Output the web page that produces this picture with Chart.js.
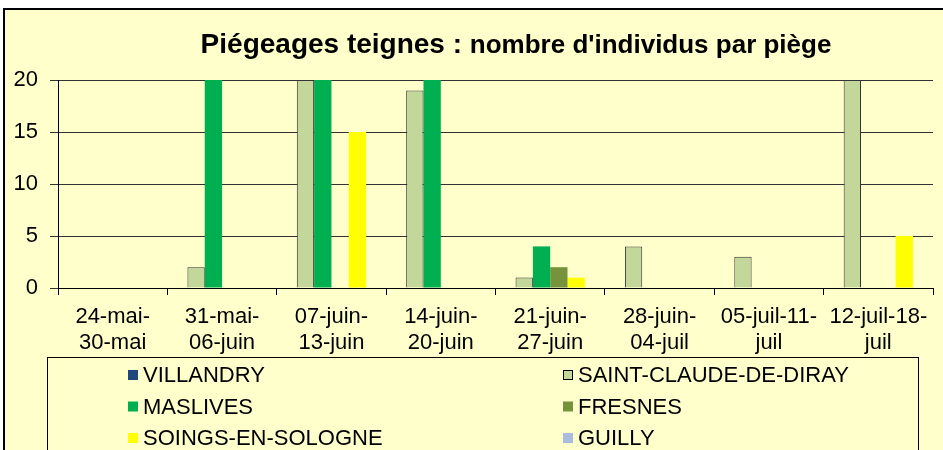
<!DOCTYPE html>
<html>
<head>
<meta charset="utf-8">
<script src="https://cdn.jsdelivr.net/npm/chart.js@4"></script>
<style>
  html, body { margin: 0; padding: 0; background: #fff; }
  #wrap { width: 943px; height: 450px; position: relative; }
</style>
</head>
<body>
<div id="wrap"><canvas id="teignesChart" width="943" height="450"></canvas></div>
<script>
const categories = [
    ['24-mai-', '30-mai'], ['31-mai-', '06-juin'], ['07-juin-', '13-juin'], ['14-juin-', '20-juin'],
    ['21-juin-', '27-juin'], ['28-juin-', '04-juil'], ['05-juil-11-', 'juil'], ['12-juil-18-', 'juil']
];
const villandry   = [0, 0, 0, 0, 0, 0, 0, 0];
const saintClaude = [0, 2, 20, 19, 1, 4, 3, 20];
const maslives    = [0, 20, 20, 20, 4, 0, 0, 0];
const fresnes     = [0, 0, 0, 0, 2, 0, 0, 0];
const soings      = [0, 0, 15, 0, 1, 0, 0, 5];
const guilly      = [0, 0, 0, 0, 0, 0, 0, 0];
const yTicks = [0, 5, 10, 15, 20];

const FONT = "'Liberation Sans', Arial, sans-serif";

// fond, cadre, titre et légende dessinés à la main
const decor = {
    id: 'decor',
    beforeDraw(chart) {
        const c = chart.ctx;
        c.save();
        c.fillStyle = '#ffffff';
        c.fillRect(0, 0, chart.width, chart.height);
        c.fillStyle = '#FFFFCC';
        c.fillRect(4, 9, chart.width, chart.height);
        c.strokeStyle = '#000';
        c.lineWidth = 2;
        c.beginPath();
        c.moveTo(4, chart.height + 2);
        c.lineTo(4, 9);
        c.lineTo(chart.width + 2, 9);
        c.stroke();
        c.restore();
    },
    afterDraw(chart) {
        const c = chart.ctx;
        c.save();
        // titre
        const t1 = 'Piégeages teignes : ';
        const t2 = "nombre d'individus par piège";
        c.fillStyle = '#000';
        c.textBaseline = 'alphabetic';
        c.font = 'bold 28px ' + FONT;
        const w1 = c.measureText(t1).width;
        c.font = 'bold 26px ' + FONT;
        const w2 = c.measureText(t2).width;
        let x = 516 - (w1 + w2) / 2;
        c.font = 'bold 28px ' + FONT;
        c.fillText(t1, x, 53);
        c.font = 'bold 26px ' + FONT;
        c.fillText(t2, x + w1, 53);

        // légende
        c.strokeStyle = '#000';
        c.lineWidth = 1;
        c.strokeRect(47.5, 357.5, 871, 120);
        c.font = '22px ' + FONT;
        c.textBaseline = 'middle';
        chart.data.datasets.forEach((ds, i) => {
            const col = i % 2, row = Math.floor(i / 2);
            const sx = col === 0 ? 128 : 563;
            const sy = 375 + row * 31.5;
            c.fillStyle = ds.backgroundColor;
            c.fillRect(sx, sy - 5, 10, 10);
            if (ds.borderWidth) {
                c.strokeStyle = '#000';
                c.strokeRect(sx + 0.5, sy - 4.5, 9, 9);
            }
            c.fillStyle = '#000';
            c.fillText(ds.label, sx + 15, sy + 1);
        });
        c.restore();
    }
};

const ctx = document.getElementById('teignesChart').getContext('2d');
const teignesChart = new Chart(ctx, {
    type: 'bar',
    data: {
        labels: categories,
        datasets: [
            { label: 'VILLANDRY', data: villandry, backgroundColor: '#1F497D', borderWidth: 0 },
            { label: 'SAINT-CLAUDE-DE-DIRAY', data: saintClaude, backgroundColor: '#C4D79B', borderColor: '#333333', borderWidth: 1 },
            { label: 'MASLIVES', data: maslives, backgroundColor: '#00B050', borderWidth: 0 },
            { label: 'FRESNES', data: fresnes, backgroundColor: '#76933C', borderWidth: 0 },
            { label: 'SOINGS-EN-SOLOGNE', data: soings, backgroundColor: '#FFFF00', borderWidth: 0 },
            { label: 'GUILLY', data: guilly, backgroundColor: '#A9BCDD', borderWidth: 0 }
        ]
    },
    options: {
        responsive: false,
        animation: false,
        categoryPercentage: 0.95,
        barPercentage: 1,
        layout: { padding: { top: 80, right: 10, bottom: 90, left: 0 } },
        plugins: {
            legend: { display: false },
            title: { display: false },
            tooltip: { enabled: false }
        },
        scales: {
            x: {
                grid: { offset: true, drawOnChartArea: false, drawTicks: true, tickLength: 7, color: '#000' },
                border: { display: true, color: '#000', width: 1 },
                ticks: {
                    color: '#000', maxRotation: 0, minRotation: 0, autoSkip: false, padding: 9,
                    font: { family: FONT, size: 22, lineHeight: 1.18 }
                },
                afterFit: (scale) => { scale.height = 72; }
            },
            y: {
                min: 0, max: 20,
                afterBuildTicks: (scale) => { scale.ticks = yTicks.map(v => ({ value: v })); },
                grid: { color: '#333333', lineWidth: 1, drawTicks: true, tickLength: 8 },
                border: { display: true, color: '#000', width: 1 },
                ticks: { color: '#000', padding: 12, font: { family: FONT, size: 22 } },
                afterFit: (scale) => { scale.width = 58; }
            }
        }
    },
    plugins: [decor]
});
</script>
</body>
</html>
